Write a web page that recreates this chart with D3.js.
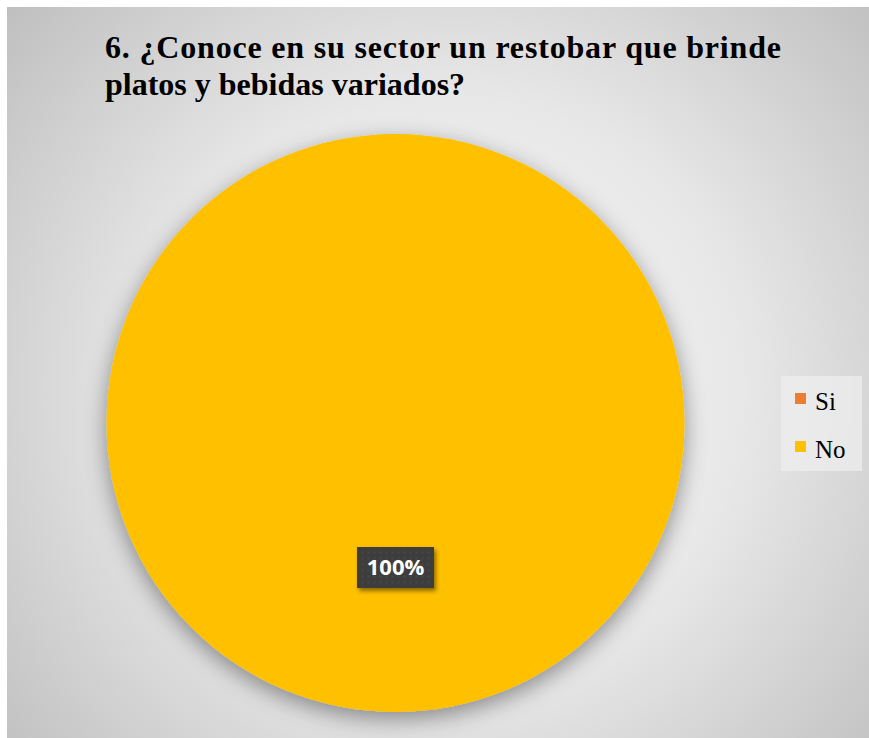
<!DOCTYPE html>
<html>
<head>
<meta charset="utf-8">
<script src="https://cdn.jsdelivr.net/npm/d3@7"></script>
<style>
  body { margin: 0; background: #fff; }
  svg { display: block; }
</style>
</head>
<body>
<div id="chart"></div>
<script>
var categories = ["Si", "No"];
var values = [0, 100];
var colors = ["#ED7D31", "#FFC000"];
var titleLines = ["6. ¿Conoce en su sector un restobar que brinde", "platos y bebidas variados?"];

var W = 869, H = 738;
var svg = d3.select("#chart").append("svg").attr("width", W).attr("height", H);
var defs = svg.append("defs");

var bg = defs.append("radialGradient").attr("id", "bgGrad")
    .attr("gradientUnits", "userSpaceOnUse")
    .attr("cx", 450).attr("cy", 390).attr("r", 580);
bg.append("stop").attr("offset", "0").attr("stop-color", "#f7f7f7");
bg.append("stop").attr("offset", "0.5").attr("stop-color", "#e8e8e8");
bg.append("stop").attr("offset", "1").attr("stop-color", "#c0c0c0");

var pieShadow = defs.append("filter").attr("id", "pieShadow")
    .attr("x", "-20%").attr("y", "-20%").attr("width", "140%").attr("height", "140%");
pieShadow.append("feDropShadow").attr("dx", 0).attr("dy", 7).attr("stdDeviation", 11)
    .attr("flood-color", "#000").attr("flood-opacity", 0.4);

var boxShadow = defs.append("filter").attr("id", "boxShadow")
    .attr("x", "-30%").attr("y", "-30%").attr("width", "160%").attr("height", "160%");
boxShadow.append("feDropShadow").attr("dx", 2).attr("dy", 3).attr("stdDeviation", 2)
    .attr("flood-color", "#000").attr("flood-opacity", 0.45);

var dots = defs.append("pattern").attr("id", "dots")
    .attr("patternUnits", "userSpaceOnUse").attr("width", 6).attr("height", 6);
dots.append("rect").attr("width", 6).attr("height", 6).attr("fill", "#3c3c3c");
dots.append("rect").attr("x", 2).attr("y", 2).attr("width", 2).attr("height", 2).attr("fill", "#4a4a4a");

// chart area
svg.append("rect").attr("x", 7).attr("y", 7).attr("width", W - 7).attr("height", H - 7)
    .attr("fill", "url(#bgGrad)");

// title
var title = svg.append("g")
    .style("font-family", "'Liberation Serif', 'Times New Roman', serif")
    .style("font-weight", "bold").style("font-size", "32px").attr("fill", "#000");
title.append("text").attr("x", 105).attr("y", 58).text(titleLines[0])
    .attr("textLength", 676).attr("lengthAdjust", "spacing");
title.append("text").attr("x", 105).attr("y", 95).text(titleLines[1]);

// pie
var cx = 395.5, cy = 423, r = 289;
var pie = d3.pie().sort(null).value(function (d) { return d.value; });
var data = categories.map(function (c, i) { return { name: c, value: values[i], color: colors[i] }; });
var arcs = pie(data);
var arc = d3.arc().innerRadius(0).outerRadius(r);

var g = svg.append("g").attr("transform", "translate(" + cx + "," + cy + ")");
g.append("g").attr("filter", "url(#pieShadow)")
    .selectAll("path").data(arcs).enter().append("path")
    .attr("d", arc)
    .attr("fill", function (d) { return d.data.color; });

// data label
var total = d3.sum(values);
arcs.filter(function (d) { return d.data.value > 0; }).forEach(function (d) {
    var c = arc.centroid(d);
    var lab = g.append("g").attr("transform", "translate(" + c[0] + "," + c[1] + ")");
    lab.append("rect").attr("x", -38.5).attr("y", -20.5).attr("width", 77).attr("height", 41)
        .attr("fill", "url(#dots)").attr("filter", "url(#boxShadow)");
    lab.append("text").attr("text-anchor", "middle").attr("dy", "0.36em")
        .style("font-family", "'Open Sans', 'Noto Sans', sans-serif")
        .style("font-weight", "bold").style("font-size", "22px")
        .attr("fill", "#fff")
        .text(Math.round(d.data.value / total * 100) + "%");
});

// legend
var legend = svg.append("g");
legend.append("rect").attr("x", 781).attr("y", 376).attr("width", 81).attr("height", 95)
    .attr("fill", "#f0f0f0").attr("opacity", 0.7);
var items = legend.selectAll("g.item").data(data).enter().append("g")
    .attr("transform", function (d, i) { return "translate(795," + (393 + i * 48) + ")"; });
items.append("rect").attr("width", 11).attr("height", 11)
    .attr("fill", function (d) { return d.color; });
items.append("text").attr("x", 20).attr("y", 17)
    .style("font-family", "'Liberation Serif', 'Times New Roman', serif")
    .style("font-size", "25px").attr("fill", "#000")
    .text(function (d) { return d.name; });
</script>
</body>
</html>
